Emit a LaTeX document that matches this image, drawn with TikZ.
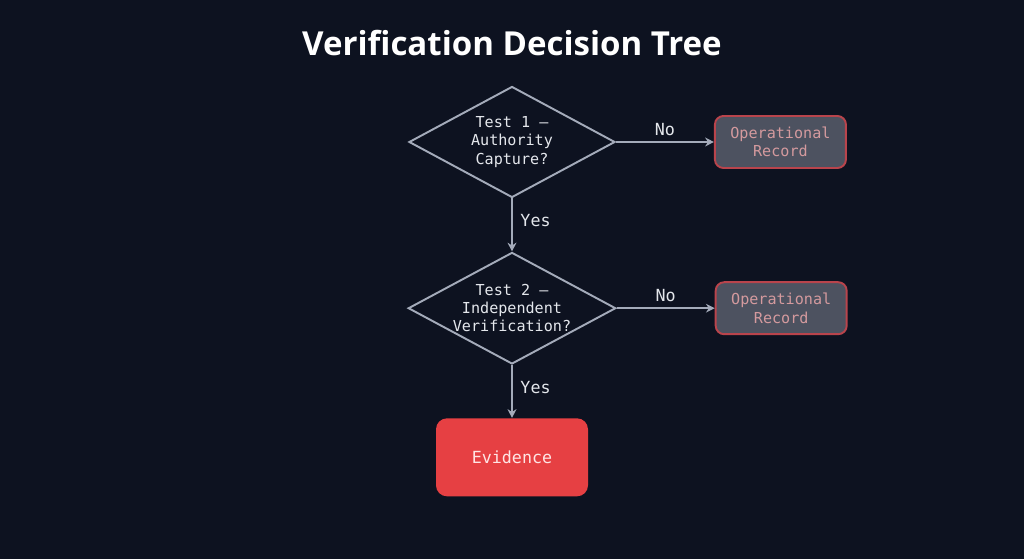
\documentclass[tikz,border=0pt]{standalone}
\usepackage{fontspec}
\setmainfont{Open Sans}
\newfontfamily\monofont{DejaVu Sans Mono}
\usetikzlibrary{positioning, shapes.geometric, arrows.meta}
\usepackage{xcolor}
\definecolor{bgnavy}{HTML}{0D1220}
\definecolor{edgegray}{HTML}{A4ABBA}
\definecolor{labelwhite}{HTML}{E4E7EC}
\definecolor{evidred}{HTML}{E64043}
\definecolor{recfill}{HTML}{4D5260}
\definecolor{recedge}{HTML}{B9444C}
\definecolor{rectext}{HTML}{D49A9E}

\tikzset{
    test/.style={diamond, draw=edgegray, line width=1.1pt, aspect=1.86,
        minimum width=4.12cm, minimum height=2.22cm, inner sep=0pt,
        align=center, text=labelwhite, font=\monofont\fontsize{8.6}{10.4}\selectfont},
    record/.style={rounded corners=0.17cm, draw=recedge, line width=1.1pt, fill=recfill,
        minimum width=2.62cm, minimum height=1.04cm, align=center, text=rectext,
        font=\monofont\fontsize{8.6}{10.4}\selectfont},
    outcome/.style={rounded corners=0.22cm, fill=evidred, minimum width=3.04cm,
        minimum height=1.56cm, text=red!10!white, font=\monofont\fontsize{9.5}{11}\selectfont},
    flow/.style={draw=edgegray, line width=1pt, -{Stealth[length=5pt,width=5pt]}},
    branch/.style={text=labelwhite, font=\monofont\fontsize{9.5}{11}\selectfont},
}

\begin{document}
\begin{tikzpicture}
            \useasboundingbox[fill=bgnavy] (0,0) rectangle (20.48,-11.18);
            \node[font=\bfseries\fontsize{18.8}{22}\selectfont, text=white] (title) at (10.24,-0.86) {Verification Decision Tree};
            \node[test] (t1) at (10.24,-2.84) {Test 1 —\\Authority\\Capture?};
            \node[test, below=1.06cm of t1] (t2) {Test 2 —\\Independent\\Verification?};
            \node[outcome, below=1.06cm of t2] (ev) {Evidence};
            \node[record, right=1.96cm of t1] (r1) {Operational\\Record};
            \node[record, right=1.96cm of t2] (r2) {Operational\\Record};
            \draw[flow] (t1) -- node[branch, right=1pt, pos=0.42] {Yes} (t2);
            \draw[flow] (t2) -- node[branch, right=1pt, pos=0.42] {Yes} (ev);
            \draw[flow] (t1) -- node[branch, above=0pt] {No} (r1);
            \draw[flow] (t2) -- node[branch, above=0pt] {No} (r2);
        \end{tikzpicture}
\end{document}
